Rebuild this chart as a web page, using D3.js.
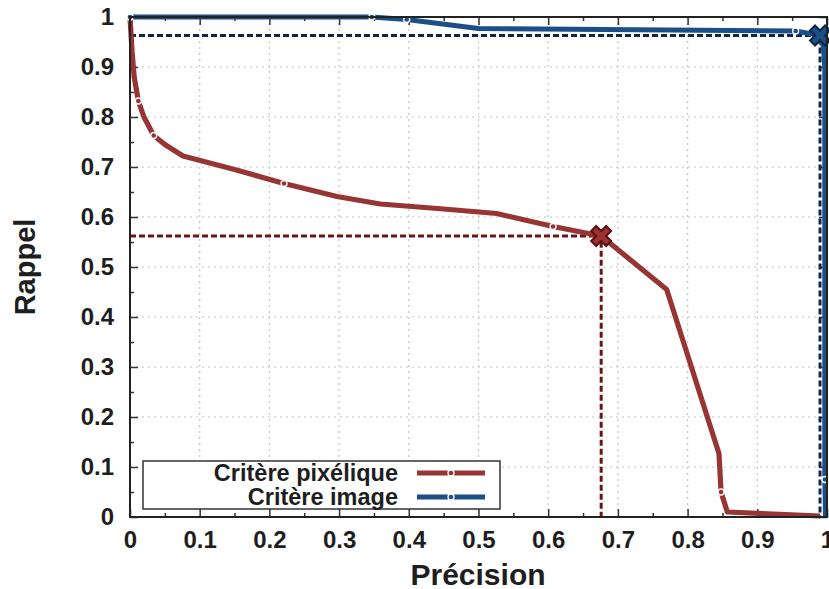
<!DOCTYPE html>
<html><head><meta charset="utf-8">
<script src="https://cdn.jsdelivr.net/npm/d3@7"></script>
<style>
body{margin:0;background:#fff;}
text{font-family:"Liberation Sans",Arial,Helvetica,sans-serif;font-weight:bold;fill:#1e1e1e;}
</style></head>
<body><svg id="c" width="829" height="589"></svg>
<script>
const xTicks = [0,0.1,0.2,0.3,0.4,0.5,0.6,0.7,0.8,0.9,1];
const yTicks = [0,0.1,0.2,0.3,0.4,0.5,0.6,0.7,0.8,0.9,1];
const seriesNames = ["Critère pixélique","Critère image"];
const precisionPix = [0,0.003,0.006,0.012,0.02,0.034,0.05,0.076,0.15,0.221,0.297,0.359,0.45,0.526,0.607,0.676,0.77,0.845,0.848,0.857,0.99];
const rappelPix    = [1,0.93,0.88,0.832,0.8,0.763,0.745,0.722,0.695,0.667,0.641,0.626,0.616,0.607,0.581,0.562,0.455,0.127,0.05,0.01,0.002];
const dotsPix = [3,5,9,14,18];
const precisionImg = [0,0.347,0.397,0.5,0.955,0.99,0.995,0.997,0.997,0.998];
const rappelImg    = [1,1,0.995,0.977,0.972,0.963,0.94,0.9,0.075,0];
const dotsImg = [0,1,2,4,8];
const bestPix = [0.676,0.562];
const bestImg = [0.99,0.963];

const svg = d3.select("#c");
const L=130,R=827,T=17,B=517;
const x = d3.scaleLinear().domain([0,1]).range([L,R]);
const y = d3.scaleLinear().domain([0,1]).range([B,T]);
const colors = ["#973534","#1c4f87"];
const dashColors = ["#6a1616","#0f2748"];
const xColors = [["#9a3332","#5a1212"],["#1b4f88","#0d2546"]];

// grid
const g = svg.append("g");
xTicks.filter(v=>v>0&&v<1).forEach(v=>{
  g.append("line").attr("x1",x(v)).attr("x2",x(v)).attr("y1",T).attr("y2",B)
   .attr("stroke","#c4c4c4").attr("stroke-width",1.2).attr("stroke-dasharray","2,4");
});
yTicks.filter(v=>v>0&&v<1).forEach(v=>{
  g.append("line").attr("x1",L).attr("x2",R).attr("y1",y(v)).attr("y2",y(v))
   .attr("stroke","#c4c4c4").attr("stroke-width",1.2).attr("stroke-dasharray","2,4");
});

// axes
const minor = d3.range(0.05,1,0.1);
const axB = d3.axisBottom(x).tickValues(xTicks).tickFormat(d3.format("")).tickSizeInner(-8).tickSizeOuter(0).tickPadding(14);
const axL = d3.axisLeft(y).tickValues(yTicks).tickFormat(d3.format("")).tickSizeInner(-8).tickSizeOuter(0).tickPadding(16);
const axT = d3.axisTop(x).tickValues(xTicks).tickFormat("").tickSizeInner(-8).tickSizeOuter(0);
const axR = d3.axisRight(y).tickValues(yTicks).tickFormat("").tickSizeInner(-8).tickSizeOuter(0);
const mB = d3.axisBottom(x).tickValues(minor).tickFormat("").tickSizeInner(-4).tickSizeOuter(0);
const mL = d3.axisLeft(y).tickValues(minor).tickFormat("").tickSizeInner(-4).tickSizeOuter(0);
const mT = d3.axisTop(x).tickValues(minor).tickFormat("").tickSizeInner(-4).tickSizeOuter(0);
const mR = d3.axisRight(y).tickValues(minor).tickFormat("").tickSizeInner(-4).tickSizeOuter(0);
function styleAx(sel){ sel.select(".domain").remove(); sel.selectAll("line").attr("stroke","#333").attr("stroke-width",1.5);
  sel.selectAll("text").attr("font-size",24).attr("font-weight","bold").attr("fill","#1e1e1e").attr("font-family","Liberation Sans, Arial, sans-serif"); }
svg.append("g").attr("transform",`translate(0,${B})`).call(axB).call(styleAx);
svg.append("g").attr("transform",`translate(${L},0)`).call(axL).call(styleAx);
svg.append("g").attr("transform",`translate(0,${T})`).call(axT).call(styleAx);
svg.append("g").attr("transform",`translate(${R},0)`).call(axR).call(styleAx);
svg.append("g").attr("transform",`translate(0,${B})`).call(mB).call(styleAx);
svg.append("g").attr("transform",`translate(${L},0)`).call(mL).call(styleAx);
svg.append("g").attr("transform",`translate(0,${T})`).call(mT).call(styleAx);
svg.append("g").attr("transform",`translate(${R},0)`).call(mR).call(styleAx);

// dashed guides
[bestPix,bestImg].forEach((p,i)=>{
  svg.append("path").attr("d",`M${x(0)},${y(p[1])}H${x(p[0])}V${y(0)}`)
    .attr("fill","none").attr("stroke",dashColors[i]).attr("stroke-width",3).attr("stroke-dasharray","6,3");
});

// curves
const line = d3.line().x(d=>x(d[0])).y(d=>y(d[1]));
const series = [
  {xs:precisionPix, ys:rappelPix, dots:dotsPix},
  {xs:precisionImg, ys:rappelImg, dots:dotsImg}
];
series.forEach((s,i)=>{
  const pts = s.xs.map((v,k)=>[v,s.ys[k]]);
  svg.append("path").datum(pts).attr("d",line).attr("fill","none")
    .attr("stroke",colors[i]).attr("stroke-width",5.2).attr("stroke-linejoin","round");
  s.dots.forEach(k=>{
    svg.append("circle").attr("cx",x(pts[k][0])).attr("cy",y(pts[k][1])).attr("r",3)
      .attr("fill",colors[i]).attr("stroke","#fff").attr("stroke-width",1.3);
  });
});

// X markers
const cross = d3.symbol().type(d3.symbolCross).size(250);
[bestPix,bestImg].forEach((p,i)=>{
  svg.append("path").attr("d",cross()).attr("transform",`translate(${x(p[0])},${y(p[1])}) rotate(45)`)
    .attr("fill",xColors[i][0]).attr("stroke",xColors[i][1]).attr("stroke-width",2);
});

// frame
svg.append("rect").attr("x",L).attr("y",T).attr("width",R-L).attr("height",B-T)
  .attr("fill","none").attr("stroke","#222").attr("stroke-width",2);

// legend
const lg = svg.append("g");
lg.append("rect").attr("x",143).attr("y",461).attr("width",357).attr("height",48)
  .attr("fill","#fff").attr("stroke","#333").attr("stroke-width",1.5);
seriesNames.forEach((n,i)=>{
  const yy = 473 + i*24;
  lg.append("text").attr("x",398).attr("y",yy).attr("dy","0.34em").attr("text-anchor","end")
    .attr("font-size",23.5).text(n);
  lg.append("line").attr("x1",417).attr("x2",485).attr("y1",yy).attr("y2",yy)
    .attr("stroke",colors[i]).attr("stroke-width",5);
  lg.append("circle").attr("cx",451).attr("cy",yy).attr("r",3).attr("fill",colors[i])
    .attr("stroke","#fff").attr("stroke-width",1.3);
});

// titles
svg.append("text").attr("x",478).attr("y",585).attr("text-anchor","middle")
  .attr("font-size",30).text("Précision");
svg.append("text").attr("transform",`translate(35,${(T+B)/2}) rotate(-90)`).attr("text-anchor","middle")
  .attr("font-size",29).text("Rappel");
</script></body></html>
